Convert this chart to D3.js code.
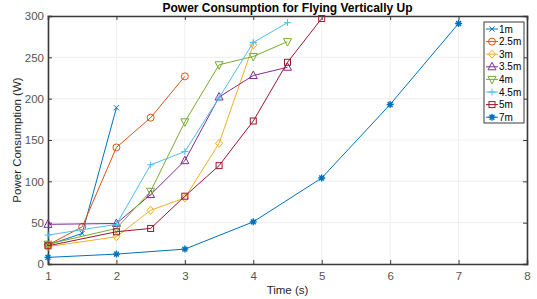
<!DOCTYPE html>
<html>
<head>
<meta charset="utf-8">
<script src="https://cdn.jsdelivr.net/npm/d3@7"></script>
<style>
  body { margin: 0; background: #fff; }
  svg { display: block; font-family: Arial, "Liberation Sans", sans-serif; }
</style>
</head>
<body>
<div id="chart"><svg></svg></div>
<script>
// series
var names = ["1m", "2.5m", "3m", "3.5m", "4m", "4.5m", "5m", "7m"];
var times = [
  [1, 1.5, 2],
  [1, 1.5, 2, 2.5, 3],
  [1, 2, 2.5, 3, 3.5, 4],
  [1, 2, 2.5, 3, 3.5, 4, 4.5],
  [1, 2, 2.5, 3, 3.5, 4, 4.5],
  [1, 2, 2.5, 3, 3.5, 4, 4.5],
  [1, 2, 2.5, 3, 3.5, 4, 4.5, 5],
  [1, 2, 3, 4, 5, 6, 7]
];
var power = [
  [23, 37, 189],
  [23, 45, 141, 177, 227],
  [21, 33, 65, 80, 146, 265],
  [48, 49, 84, 125, 202, 228, 238],
  [24, 43, 88, 172, 241, 251, 269],
  [35, 48, 120, 136, 201, 268, 292],
  [22, 39, 43, 82, 119, 173, 244, 297],
  [8, 12, 18, 51, 104, 193, 291]
];
var colors = ["#0072BD", "#D95319", "#EDB120", "#7E2F8E", "#77AC30", "#4DBEEE", "#A2142F", "#0072BD"];
var markers = ["x", "o", "d", "^", "v", "+", "s", "*"];
var xTicks = [1, 2, 3, 4, 5, 6, 7, 8];
var yTicks = [0, 50, 100, 150, 200, 250, 300];

var width = 537, height = 299;
var pLeft = 48, pRight = 527, pTop = 16, pBottom = 264;

var svg = d3.select("svg").attr("width", width).attr("height", height);

var x = d3.scaleLinear().domain([1, 8]).range([pLeft, pRight]);
var y = d3.scaleLinear().domain([0, 300]).range([pBottom, pTop]);

// grid
svg.append("g").selectAll("line").data(xTicks).enter().append("line")
  .attr("x1", d => x(d)).attr("x2", d => x(d)).attr("y1", pTop).attr("y2", pBottom)
  .attr("stroke", "#eeeeee").attr("stroke-width", 1);
svg.append("g").selectAll("line").data(yTicks).enter().append("line")
  .attr("x1", pLeft).attr("x2", pRight).attr("y1", d => y(d)).attr("y2", d => y(d))
  .attr("stroke", "#eeeeee").attr("stroke-width", 1);

// axes
var axisColor = "#3a3a3a";
var xAxis = svg.append("g").attr("transform", "translate(0," + pBottom + ")")
  .call(d3.axisBottom(x).tickValues(xTicks).tickSize(-4).tickPadding(8).tickFormat(d3.format("d")));
var yAxis = svg.append("g").attr("transform", "translate(" + pLeft + ",0)")
  .call(d3.axisLeft(y).tickValues(yTicks).tickSize(-4).tickPadding(4).tickFormat(d3.format("d")));
var xTop = svg.append("g").attr("transform", "translate(0," + pTop + ")")
  .call(d3.axisTop(x).tickValues(xTicks).tickSize(-4).tickFormat(""));
var yRight = svg.append("g").attr("transform", "translate(" + pRight + ",0)")
  .call(d3.axisRight(y).tickValues(yTicks).tickSize(-4).tickFormat(""));
[xAxis, yAxis, xTop, yRight].forEach(function (g) {
  g.selectAll("path").attr("stroke", axisColor).attr("stroke-width", 1.6);
  g.selectAll("line").attr("stroke", axisColor);
  g.selectAll("text").attr("fill", "#555").attr("font-size", "11.5px");
});

var line = d3.line().x(d => x(d[0])).y(d => y(d[1]));

function drawMarker(g, type, cx, cy, color) {
  var s = 3.5;
  if (type === "o") {
    g.append("circle").attr("cx", cx).attr("cy", cy).attr("r", s)
      .attr("fill", "none").attr("stroke", color);
  } else if (type === "s") {
    g.append("rect").attr("x", cx - s + 0.5).attr("y", cy - s + 0.5).attr("width", 2 * s - 1).attr("height", 2 * s - 1)
      .attr("fill", "none").attr("stroke", color);
  } else if (type === "d") {
    g.append("path").attr("d", "M" + cx + "," + (cy - s - 0.5) + "L" + (cx + s) + "," + cy + "L" + cx + "," + (cy + s + 0.5) + "L" + (cx - s) + "," + cy + "Z")
      .attr("fill", "none").attr("stroke", color);
  } else if (type === "^") {
    g.append("path").attr("d", "M" + cx + "," + (cy - s - 1) + "L" + (cx + s + 0.5) + "," + (cy + s - 0.5) + "L" + (cx - s - 0.5) + "," + (cy + s - 0.5) + "Z")
      .attr("fill", "none").attr("stroke", color);
  } else if (type === "v") {
    g.append("path").attr("d", "M" + cx + "," + (cy + s + 1) + "L" + (cx + s + 0.5) + "," + (cy - s + 0.5) + "L" + (cx - s - 0.5) + "," + (cy - s + 0.5) + "Z")
      .attr("fill", "none").attr("stroke", color);
  } else if (type === "+") {
    g.append("path").attr("d", "M" + (cx - s) + "," + cy + "H" + (cx + s) + "M" + cx + "," + (cy - s) + "V" + (cy + s))
      .attr("stroke", color);
  } else if (type === "x") {
    var t = s * 0.75;
    g.append("path").attr("d", "M" + (cx - t) + "," + (cy - t) + "L" + (cx + t) + "," + (cy + t) + "M" + (cx - t) + "," + (cy + t) + "L" + (cx + t) + "," + (cy - t))
      .attr("stroke", color);
  } else if (type === "*") {
    var t2 = s * 0.7;
    g.append("path").attr("d", "M" + (cx - s) + "," + cy + "H" + (cx + s) + "M" + cx + "," + (cy - s) + "V" + (cy + s) +
      "M" + (cx - t2) + "," + (cy - t2) + "L" + (cx + t2) + "," + (cy + t2) + "M" + (cx - t2) + "," + (cy + t2) + "L" + (cx + t2) + "," + (cy - t2))
      .attr("stroke", color).attr("stroke-width", 1.4);
  }
}

// series
names.forEach(function (name, i) {
  var pts = times[i].map((t, j) => [t, power[i][j]]);
  var g = svg.append("g");
  g.append("path").datum(pts).attr("d", line)
    .attr("fill", "none").attr("stroke", colors[i]).attr("stroke-width", 1);
  pts.forEach(function (p) { drawMarker(g, markers[i], x(p[0]), y(p[1]), colors[i]); });
});

// title and labels
svg.append("text").attr("x", (pLeft + pRight) / 2).attr("y", 11.5).attr("text-anchor", "middle")
  .attr("font-size", "12px").attr("font-weight", "bold").attr("fill", "#000")
  .text("Power Consumption for Flying Vertically Up");
svg.append("text").attr("x", (pLeft + pRight) / 2).attr("y", 294).attr("text-anchor", "middle")
  .attr("font-size", "11.5px").attr("fill", "#262626").text("Time (s)");
svg.append("text").attr("transform", "translate(21," + ((pTop + pBottom) / 2) + ") rotate(-90)")
  .attr("text-anchor", "middle").attr("font-size", "11.5px").attr("fill", "#262626")
  .text("Power Consumption (W)");

// legend
var lx = 484, ly = 22, lw = 40, rowH = 12.6;
var legend = svg.append("g");
legend.append("rect").attr("x", lx).attr("y", ly).attr("width", lw).attr("height", 101)
  .attr("fill", "#fff").attr("stroke", "#262626").attr("stroke-width", 0.9);
names.forEach(function (name, i) {
  var cy = ly + 7 + i * rowH;
  legend.append("line").attr("x1", lx + 2).attr("x2", lx + 14).attr("y1", cy).attr("y2", cy)
    .attr("stroke", colors[i]).attr("stroke-width", 1);
  drawMarker(legend, markers[i], lx + 8, cy, colors[i]);
  legend.append("text").attr("x", lx + 15).attr("y", cy + 3.6).attr("font-size", "10px")
    .attr("fill", "#000").text(name);
});
</script>
</body>
</html>
